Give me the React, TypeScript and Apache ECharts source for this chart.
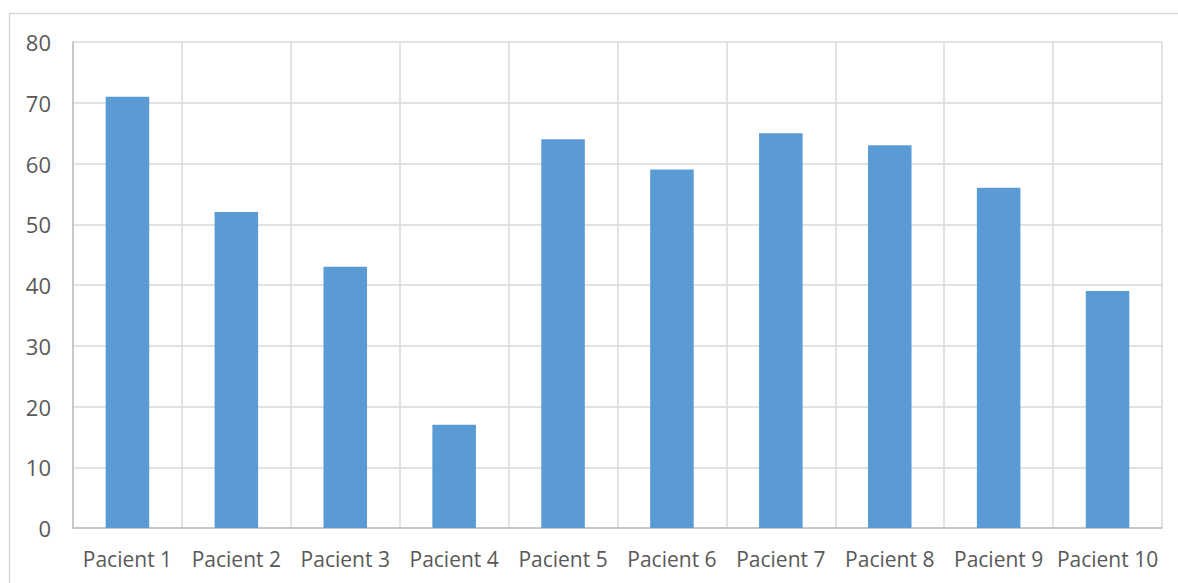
import React, { useEffect, useRef } from "react";
import * as echarts from "echarts";

const categories = ["Pacient 1", "Pacient 2", "Pacient 3", "Pacient 4", "Pacient 5", "Pacient 6", "Pacient 7", "Pacient 8", "Pacient 9", "Pacient 10"];
const values = [71, 52, 43, 17, 64, 59, 65, 63, 56, 39];
const yTicks = { min: 0, max: 80, interval: 10 };

export default function App() {
  const ref = useRef<HTMLDivElement>(null);
  useEffect(() => {
    if (!ref.current) return;
    const chart = echarts.init(ref.current, undefined, { renderer: "svg" });
    const font = "'Open Sans', 'Liberation Sans', sans-serif";
    chart.setOption({
      animation: false,
      backgroundColor: "#ffffff",
      graphic: [
        {
          type: "rect",
          shape: { x: 9.5, y: 13.5, width: 1200, height: 620 },
          style: { fill: "none", stroke: "#d9d9d9", lineWidth: 1.5 },
          silent: true,
          z: -10,
        },
      ],
      grid: { left: 73, top: 42, right: 16, bottom: 55, containLabel: false },
      xAxis: {
        type: "category",
        data: categories,
        boundaryGap: true,
        axisTick: { show: false },
        axisLine: { show: true, lineStyle: { color: "#bfbfbf", width: 1.5 } },
        splitLine: { show: true, lineStyle: { color: "#d9d9d9", width: 1.5 } },
        axisLabel: { color: "#595959", fontSize: 21, fontFamily: font, margin: 20, interval: 0 },
      },
      yAxis: {
        type: "value",
        min: yTicks.min,
        max: yTicks.max,
        interval: yTicks.interval,
        axisLine: { show: true, lineStyle: { color: "#bfbfbf", width: 1.5 } },
        axisTick: { show: false },
        splitLine: { show: true, lineStyle: { color: "#d9d9d9", width: 1.5 } },
        axisLabel: { color: "#595959", fontSize: 22, fontFamily: font, margin: 22 },
      },
      series: [
        {
          type: "bar",
          data: values,
          barWidth: "40%",
          itemStyle: { color: "#5b9bd5" },
        },
      ],
    });
    return () => chart.dispose();
  }, []);
  return <div ref={ref} style={{ position: "fixed", left: 0, top: 0, width: 1178, height: 583 }} />;
}
